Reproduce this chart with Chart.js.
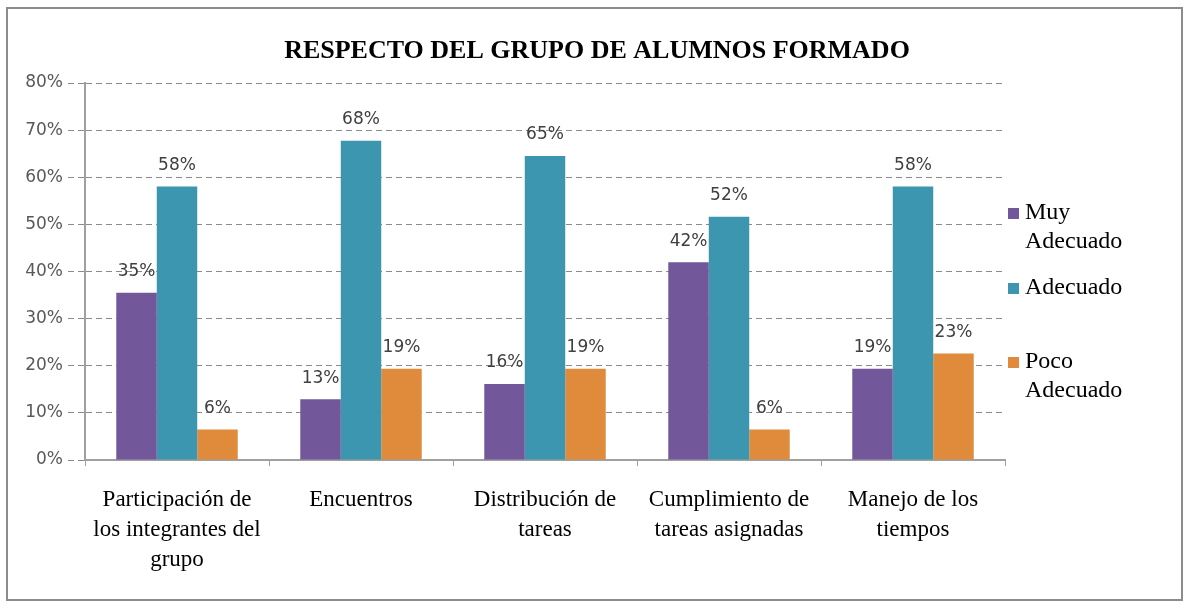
<!DOCTYPE html>
<html>
<head>
<meta charset="utf-8">
<script src="https://cdn.jsdelivr.net/npm/chart.js@4"></script>
<style>
  body { margin: 0; background: #fff; }
  #wrap { position: relative; width: 1188px; height: 604px; }
  #frame { position: absolute; left: 6px; top: 7px; width: 1177px; height: 594px; border: 2px solid #8c8c8c; box-sizing: border-box; }
  canvas { position: absolute; left: 0; top: 0; }
</style>
</head>
<body>
<div id="wrap">
  <div id="frame"></div>
  <canvas id="chart" width="1188" height="604"></canvas>
</div>
<script>
const categories = [
  ["Participación de", "los integrantes del", "grupo"],
  ["Encuentros"],
  ["Distribución de", "tareas"],
  ["Cumplimiento de", "tareas asignadas"],
  ["Manejo de los", "tiempos"]
];
const seriesNames = [["Muy", "Adecuado"], ["Adecuado"], ["Poco", "Adecuado"]];
const muyAdecuado = [35.48, 12.90, 16.13, 41.94, 19.35];
const adecuado = [58.06, 67.74, 64.52, 51.61, 58.06];
const pocoAdecuado = [6.45, 19.35, 19.35, 6.45, 22.58];
const yTicks = [0, 10, 20, 30, 40, 50, 60, 70, 80];
const titleText = "RESPECTO DEL GRUPO DE ALUMNOS FORMADO";

const colors = ["#72579a", "#3d96b0", "#e08a3c"];

// percentage above each bar
const valueLabels = {
  id: "valueLabels",
  afterDatasetsDraw(chart) {
    const ctx = chart.ctx;
    ctx.save();
    ctx.font = "17px 'DejaVu Sans'";
    ctx.fillStyle = "#404040";
    ctx.textAlign = "center";
    ctx.textBaseline = "middle";
    chart.data.datasets.forEach((ds, i) => {
      chart.getDatasetMeta(i).data.forEach((bar, j) => {
        ctx.fillText(Math.round(ds.data[j]) + "%", bar.x, bar.y - 21);
      });
    });
    ctx.restore();
  }
};

// legend on the right, names wrap on two lines
const sideLegend = {
  id: "sideLegend",
  afterDraw(chart) {
    const ctx = chart.ctx;
    const x = chart.chartArea.right + 3;
    const tops = [213, 288, 362];
    ctx.save();
    ctx.font = "24px 'Liberation Serif'";
    ctx.textBaseline = "middle";
    seriesNames.forEach((lines, i) => {
      ctx.fillStyle = colors[i];
      ctx.fillRect(x, tops[i] - 5, 11, 11);
      ctx.fillStyle = "#000";
      lines.forEach((t, k) => ctx.fillText(t, x + 17, tops[i] + k * 29));
    });
    ctx.restore();
  }
};

const plotTitle = {
  id: "plotTitle",
  afterDraw(chart) {
    const ctx = chart.ctx;
    ctx.save();
    ctx.font = "bold 26px 'Liberation Serif'";
    ctx.fillStyle = "#000";
    ctx.textAlign = "center";
    ctx.textBaseline = "middle";
    ctx.fillText(titleText, 597, 51);
    ctx.restore();
  }
};

new Chart(document.getElementById("chart"), {
  type: "bar",
  data: {
    labels: categories,
    datasets: [
      { label: seriesNames[0].join(" "), data: muyAdecuado, backgroundColor: colors[0] },
      { label: seriesNames[1].join(" "), data: adecuado, backgroundColor: colors[1] },
      { label: seriesNames[2].join(" "), data: pocoAdecuado, backgroundColor: colors[2] }
    ]
  },
  options: {
    responsive: false,
    animation: false,
    layout: { padding: { left: 0, top: 83, right: 183, bottom: 0 } },
    plugins: {
      legend: { display: false },
      title: { display: false },
      tooltip: { enabled: false }
    },
    datasets: { bar: { barPercentage: 1, categoryPercentage: 0.66 } },
    scales: {
      x: {
        afterFit: (s) => { s.height = 144; },
        grid: { drawOnChartArea: false, drawTicks: true, tickLength: 6, color: "#a0a0a0" },
        border: { color: "#a0a0a0", width: 2 },
        ticks: {
          font: { family: "'Liberation Serif'", size: 23, lineHeight: 1.3 },
          color: "#000",
          padding: 19,
          maxRotation: 0,
          autoSkip: false
        }
      },
      y: {
        min: 0,
        max: 80,
        afterFit: (s) => { s.width = 85; },
        afterBuildTicks: (s) => { s.ticks = yTicks.map((v) => ({ value: v })); },
        grid: { color: "#8a8a8a", tickColor: "#8a8a8a", tickLength: 17, lineWidth: 1, tickBorderDash: [6, 4] },
        border: { color: "#a0a0a0", width: 2, dash: [6, 4] },
        ticks: {
          font: { family: "'DejaVu Sans'", size: 17 },
          color: "#595959",
          padding: 5,
          callback: (v) => v + "%"
        }
      }
    }
  },
  plugins: [valueLabels, sideLegend, plotTitle]
});
</script>
</body>
</html>
